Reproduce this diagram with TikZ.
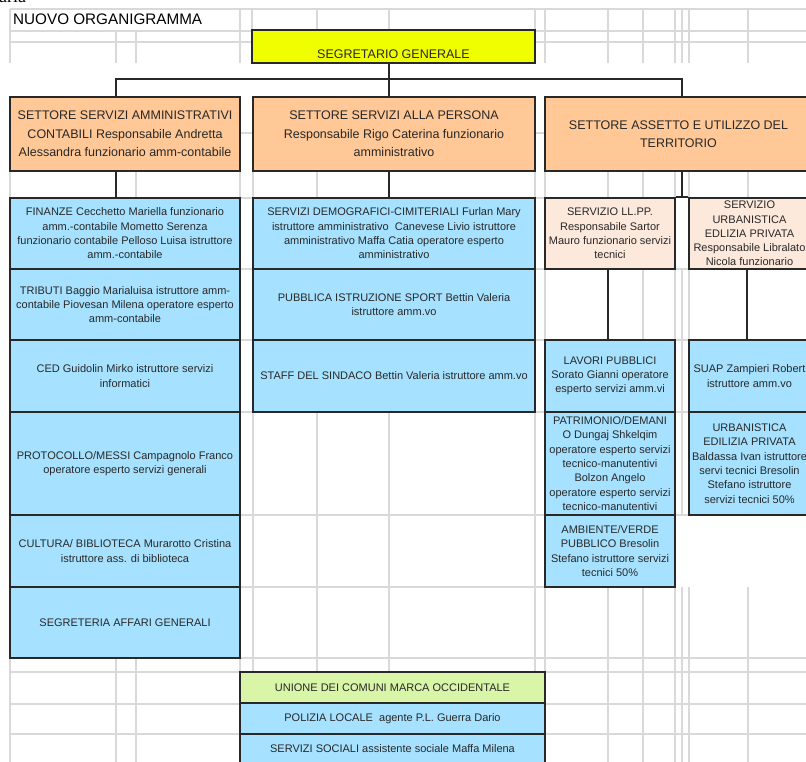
\documentclass[tikz,border=0pt]{standalone}
\usepackage{fontspec}
\setmainfont{Liberation Sans}
\newfontfamily\serifx{Liberation Serif}
\definecolor{gridgray}{RGB}{217,217,217}
\definecolor{orangefill}{RGB}{255,200,150}
\definecolor{bluefill}{RGB}{166,226,255}
\definecolor{pinkfill}{RGB}{253,233,220}
\definecolor{greenfill}{RGB}{216,245,168}
\definecolor{yellowfill}{RGB}{240,255,0}
\definecolor{ink}{RGB}{40,40,40}
\begin{document}
\begin{tikzpicture}[x=1pt,y=-1pt,
  gridline/.style={draw=gridgray, line width=1.4pt},
  conn/.style={draw=ink, line width=1.8pt},
  boxbase/.style={draw=ink, line width=1.8pt, inner sep=0pt, align=center, text=ink},
  orangebox/.style={boxbase, fill=orangefill, font=\fontsize{12.5}{18.5}\selectfont},
  bluebox/.style={boxbase, fill=bluefill, font=\fontsize{11}{14.3}\selectfont},
  pinkbox/.style={boxbase, fill=pinkfill, font=\fontsize{11}{14.2}\selectfont},
  greenbox/.style={boxbase, fill=greenfill, font=\fontsize{11}{14.3}\selectfont},
  yellowbox/.style={boxbase, fill=yellowfill, font=\fontsize{12.5}{15}\selectfont},
  sz/.style n args={2}{minimum width=#1pt, minimum height=#2pt}
]
\useasboundingbox (0,0) rectangle (806,762);
\fill[white] (0,0) rectangle (806,762);
\clip (0,0) rectangle (806,762);

% spreadsheet grid
\foreach \y/\xa/\xb in {9/10/806, 31/10/252, 31/535/806, 42/10/252, 42/535/806,
  133/240/253, 133/535/545, 198/240/253, 198/535/545,
  269/240/253, 269/535/545, 269/675/689,
  340/240/253, 340/535/545, 340/675/689,
  412/240/545, 412/675/689, 515/240/545, 515/675/689, 587/240/545,
  658/10/806, 672/10/806, 704/10/806, 734/10/806}
  \draw[gridline] (\xa,\y) -- (\xb,\y);
\foreach \x/\ya/\yb in {10/9/63, 10/171/198, 10/658/762,
  116/31/63, 116/658/762, 136/31/63, 136/171/198, 136/658/762,
  240/9/63, 240/171/198, 240/658/672, 252/9/31,
  253/171/198, 253/412/672, 317/9/31, 317/171/198, 317/412/672,
  389/9/31, 389/412/672, 535/9/31, 535/171/198, 535/412/672,
  545/9/63, 545/171/198, 545/269/340, 545/587/762,
  608/9/63, 608/171/198, 608/587/762,
  643/9/63, 643/171/198, 643/269/340, 643/587/762,
  675/9/63, 675/171/198, 675/269/340, 675/587/762,
  682/9/63, 682/269/515, 682/587/762,
  689/9/63, 689/171/198, 689/269/340, 689/587/762,
  748/9/63, 748/171/198, 748/587/762}
  \draw[gridline] (\x,\ya) -- (\x,\yb);

% texts above
\node[anchor=base west, inner sep=0pt, font=\serifx\fontsize{18}{20}\selectfont] (aria) at (-1,3) {aria};
\node[anchor=base west, inner sep=0pt, font=\fontsize{15.25}{18}\selectfont] (title) at (13,25) {NUOVO ORGANIGRAMMA};

% boxes
\node[yellowbox, sz={283}{33}, text height=26pt, text depth=1pt] (seg) at (393.5,46.5) {SEGRETARIO GENERALE};

\node[orangebox, sz={230}{74}] (o1) at (125,134) {SETTORE SERVIZI AMMINISTRATIVI\\CONTABILI Responsabile Andretta\\Alessandra funzionario amm-contabile};
\node[orangebox, sz={282}{74}] (o2) at (394,134) {SETTORE SERVIZI ALLA PERSONA\\Responsabile Rigo Caterina funzionario\\amministrativo};
\node[orangebox, sz={267}{74}] (o3) at (678.5,134) {SETTORE ASSETTO E UTILIZZO DEL\\TERRITORIO};

% connector coordinates
\coordinate (hub) at (389,79);
\coordinate (xa) at (116,0);
\coordinate (xc) at (682,0);
\coordinate (xl) at (608,0);
\coordinate (xu) at (747,0);
\coordinate (hub3) at (682,198);

\node[bluebox, sz={230}{71}] (fin) at (125,233.5) {FINANZE Cecchetto Mariella funzionario\\amm.-contabile Mometto Serenza\\funzionario contabile Pelloso Luisa istruttore\\amm.-contabile};
\node[bluebox, sz={230}{71}] (tri) at (125,304.5) {TRIBUTI Baggio Marialuisa istruttore amm-\\contabile Piovesan Milena operatore esperto\\amm-contabile};
\node[bluebox, sz={230}{72}] (ced) at (125,376) {CED Guidolin Mirko istruttore servizi\\informatici};
\node[bluebox, sz={230}{103}] (pro) at (125,463.5) {PROTOCOLLO/MESSI Campagnolo Franco\\operatore esperto servizi generali};
\node[bluebox, sz={230}{72}] (cul) at (125,551) {CULTURA/ BIBLIOTECA Murarotto Cristina\\istruttore ass. di biblioteca};
\node[bluebox, sz={230}{71}] (sag) at (125,622.5) {SEGRETERIA AFFARI GENERALI};

\node[bluebox, sz={282}{71}] (dem) at (394,233.5) {SERVIZI DEMOGRAFICI-CIMITERIALI Furlan Mary\\istruttore amministrativo\ \ Canevese Livio istruttore\\amministrativo Maffa Catia operatore esperto\\amministrativo};
\node[bluebox, sz={282}{71}] (pub) at (394,304.5) {PUBBLICA ISTRUZIONE SPORT Bettin Valeria\\istruttore amm.vo};
\node[bluebox, sz={282}{72}] (sta) at (394,376) {STAFF DEL SINDACO Bettin Valeria istruttore amm.vo};

\node[pinkbox, sz={130}{71}] (llpp) at (610,233.5) {SERVIZIO LL.PP.\\Responsabile Sartor\\Mauro funzionario servizi\\tecnici};
\node[pinkbox, sz={121}{71}] (urb) at (749.5,233.5) {SERVIZIO\\URBANISTICA\\EDLIZIA PRIVATA\\Responsabile Libralato\\Nicola funzionario};

\node[bluebox, sz={130}{72}, font=\fontsize{11}{14.2}\selectfont] (lav) at (610,376) {LAVORI PUBBLICI\\Sorato Gianni operatore\\esperto servizi amm.vi};
\node[bluebox, sz={130}{103}, font=\fontsize{11}{14.4}\selectfont] (pat) at (610,463.5) {PATRIMONIO/DEMANI\\O Dungaj Shkelqim\\operatore esperto servizi\\tecnico-manutentivi\\Bolzon Angelo\\operatore esperto servizi\\tecnico-manutentivi};
\node[bluebox, sz={130}{72}, font=\fontsize{11}{14.2}\selectfont] (amb) at (610,551) {AMBIENTE/VERDE\\PUBBLICO Bresolin\\Stefano istruttore servizi\\tecnici 50\%};

\node[bluebox, sz={121}{72}] (suap) at (749.5,376) {SUAP Zampieri Robert\\istruttore amm.vo};
\node[bluebox, sz={121}{103}] (urb2) at (749.5,463.5) {URBANISTICA\\EDILIZIA PRIVATA\\Baldassa Ivan istruttore\\servi tecnici Bresolin\\Stefano istruttore\\servizi tecnici 50\%};

\node[greenbox, sz={305}{31}] (uni) at (392.5,687.5) {UNIONE DEI COMUNI MARCA OCCIDENTALE};
\node[bluebox, sz={305}{31}] (pol) at (392.5,718.5) {POLIZIA LOCALE\ \ agente P.L. Guerra Dario};
\node[bluebox, sz={305}{30}] (soc) at (392.5,749) {SERVIZI SOCIALI assistente sociale Maffa Milena};

% connectors
\draw[conn] (seg.south -| hub) -- (hub);
\draw[conn] (o1.north -| xa) |- (hub) -| (o3.north -| xc);
\draw[conn] (hub) -- (o2.north -| hub);
\draw[conn] (o1.south -| xa) -- (fin.north -| xa);
\draw[conn] (o2.south -| hub) -- (dem.north -| hub);
\draw[conn] (o3.south -| xc) -- (hub3);
\draw[conn] (llpp.north east) -- (urb.north west);
\draw[conn] (llpp.south -| xl) -- (lav.north -| xl);
\draw[conn] (urb.south -| xu) -- (suap.north -| xu);
\end{tikzpicture}
\end{document}
